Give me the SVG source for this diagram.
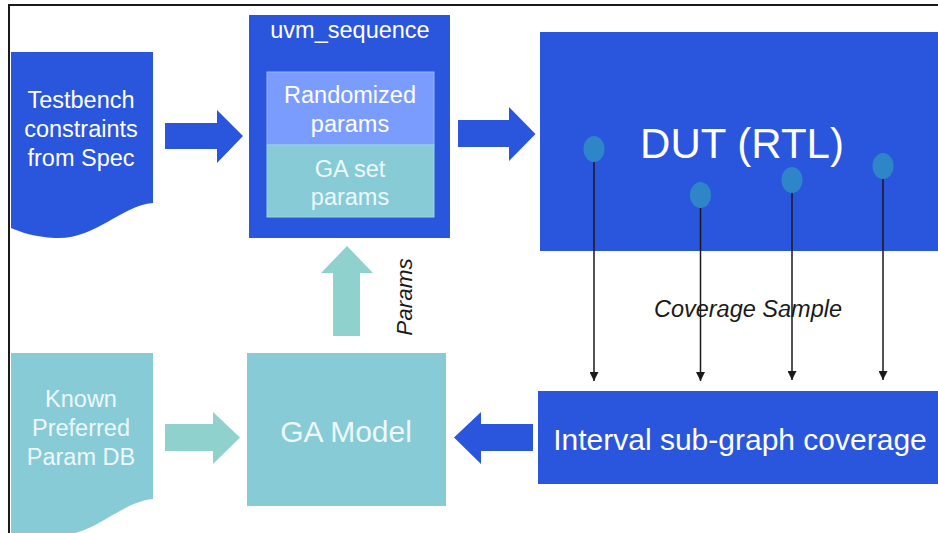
<svg xmlns="http://www.w3.org/2000/svg" width="938" height="533" viewBox="0 0 938 533">
  <style>
    .blue { fill: #2a55dd; }
    .teal { fill: #86cbd6; }
    .tealArrow { fill: #8fd1cd; }
    .lbl { font-family: "Liberation Sans", Arial, sans-serif; fill: #ffffff; text-anchor: middle; }
    .lblSoft { font-family: "Liberation Sans", Arial, sans-serif; fill: #eef8fa; text-anchor: middle; }
    .note { font-family: "Liberation Sans", Arial, sans-serif; font-style: italic; fill: #1a1a1a; text-anchor: middle; }
    .probe { fill: #2e86c8; }
    .wire { stroke: #1a1a1a; stroke-width: 1.5; fill: none; marker-end: url(#tri); }
  </style>
  <defs>
    <marker id="tri" viewBox="0 0 10 10" refX="10" refY="5" markerWidth="6" markerHeight="6" markerUnits="strokeWidth" orient="auto">
      <path d="M0,0 L10,5 L0,10 Z" fill="#1a1a1a"/>
    </marker>
  </defs>

  <rect x="0" y="0" width="938" height="533" fill="#ffffff"/>
  <!-- frame -->
  <path d="M9,540 L9,5 L945,5" fill="none" stroke="#1a1a1a" stroke-width="2"/>

  <!-- Testbench constraints document -->
  <g id="testbench">
    <path class="blue" d="M11,52 L153,52 L153,203 C120,206 95,240 55,238 C35,237 20,232 11,228 Z"/>
    <text class="lbl" font-size="23.5" x="81" y="108">Testbench</text>
    <text class="lbl" font-size="23.5" x="81" y="137">constraints</text>
    <text class="lbl" font-size="23.5" x="81" y="166">from Spec</text>
  </g>

  <!-- uvm_sequence -->
  <g id="uvm_sequence">
    <rect class="blue" x="249" y="15" width="201" height="223"/>
    <text class="lbl" font-size="23.5" x="350" y="38">uvm_sequence</text>
    <rect x="267" y="72" width="167" height="73" fill="#7b9cff" stroke="#9ab3ff" stroke-width="1"/>
    <text class="lbl" font-size="23.5" x="350" y="103">Randomized</text>
    <text class="lbl" font-size="23.5" x="350" y="132">params</text>
    <rect class="teal" x="267" y="145" width="167" height="72" stroke="#9ad6e0" stroke-width="1"/>
    <text class="lblSoft" font-size="23.5" x="350" y="177">GA set</text>
    <text class="lblSoft" font-size="23.5" x="350" y="205">params</text>
  </g>

  <!-- DUT -->
  <g id="dut">
    <rect class="blue" x="540" y="32" width="400" height="219"/>
    <text class="lbl" font-size="42" x="742" y="158">DUT (RTL)</text>
    <ellipse class="probe" cx="594" cy="149" rx="10.5" ry="13"/>
    <ellipse class="probe" cx="700.5" cy="195" rx="10.5" ry="13"/>
    <ellipse class="probe" cx="792" cy="180" rx="10.5" ry="13"/>
    <ellipse class="probe" cx="883" cy="166" rx="10.5" ry="13"/>
  </g>

  <!-- Interval sub-graph coverage -->
  <g id="coverage">
    <rect class="blue" x="538" y="391" width="402" height="93"/>
    <text class="lbl" font-size="30" x="740" y="450">Interval sub-graph coverage</text>
  </g>

  <!-- GA Model -->
  <g id="ga_model">
    <rect class="teal" x="247" y="353" width="199" height="153"/>
    <text class="lblSoft" font-size="30" x="346" y="442">GA Model</text>
  </g>

  <!-- Known preferred parameter database document -->
  <g id="param_db">
    <path class="teal" d="M11,353 L153,353 L153,499 C120,502 95,536 55,536 C35,536 20,536 11,536 Z"/>
    <text class="lblSoft" font-size="23.5" x="81" y="407">Known</text>
    <text class="lblSoft" font-size="23.5" x="81" y="436">Preferred</text>
    <text class="lblSoft" font-size="23.5" x="81" y="465">Param DB</text>
  </g>

  <!-- connectors -->
  <g id="connectors">
    <!-- block arrows -->
    <path class="blue" d="M165,123 L217,123 L217,110 L243,136 L217,163 L217,149 L165,149 Z"/>
    <path class="blue" d="M458,120 L509,120 L509,107 L535.5,134 L509,161 L509,147 L458,147 Z"/>
    <path class="blue" d="M533,424 L481,424 L481,412 L454,437.5 L481,464 L481,451 L533,451 Z"/>
    <path class="tealArrow" d="M165,424 L213,424 L213,412 L240,437.5 L213,464 L213,451 L165,451 Z"/>
    <path class="tealArrow" d="M333,336 L333,273 L321,273 L347,246 L373,273 L360,273 L360,336 Z"/>
    <text class="note" font-size="22.5" transform="translate(412,297) rotate(-90)">Params</text>

    <!-- coverage sample wires -->
    <line class="wire" x1="594" y1="162" x2="594" y2="381"/>
    <line class="wire" x1="700.5" y1="208" x2="700.5" y2="381"/>
    <line class="wire" x1="792" y1="193" x2="792" y2="380"/>
    <line class="wire" x1="883" y1="179" x2="883" y2="380"/>
    <text class="note" font-size="23.5" x="748" y="317">Coverage Sample</text>
  </g>
</svg>
